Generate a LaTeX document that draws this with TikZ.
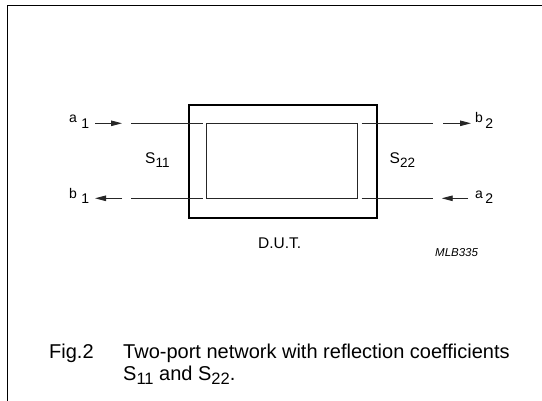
\documentclass[tikz,border=0pt]{standalone}
\usepackage{fontspec}
\setmainfont{Liberation Sans}
\usetikzlibrary{arrows.meta}
\begin{document}
\begin{tikzpicture}[x=1pt,y=-1pt,
  thin line/.style={line width=0.9pt, draw=black!85},
  thick box/.style={line width=2pt, draw=black},
  frame line/.style={line width=1.6pt, draw=black},
  sig arrow/.style={thin line, -{Triangle[length=11pt,width=5.5pt]}},
  port label/.style={anchor=base west, inner sep=0pt, font=\fontsize{14}{14}\selectfont},
  s label/.style={anchor=base west, inner sep=0pt, font=\fontsize{15.5}{15.5}\selectfont},
  captext/.style={anchor=base west, inner sep=0pt, font=\fontsize{20}{20}\selectfont}]
\useasboundingbox (0,0) rectangle (542,400);
\fill[white] (0,0) rectangle (542,400);
% frame
\coordinate (fb) at (7.3,402);
\coordinate (ftl) at (7.3,5.3);
\coordinate (fr) at (544,5.3);
\draw[frame line] (fb) -- (ftl) -- (fr);
% DUT boxes
\node[thick box, draw, minimum width=188.3pt, minimum height=112.7pt, inner sep=0pt, anchor=north west] (outer) at (187.7,104.3) {};
\node[thin line, draw, minimum width=151pt, minimum height=75pt, inner sep=0pt, anchor=north west] (inner) at (206.3,123.3) {};
% lines through
\coordinate (l1s) at (131,123.3); \coordinate (l1e) at (202.7,123.3);
\coordinate (l2s) at (131,198.3); \coordinate (l2e) at (202.7,198.3);
\coordinate (r1s) at (361.7,123.3); \coordinate (r1e) at (433.3,123.3);
\coordinate (r2s) at (361.7,198.3); \coordinate (r2e) at (433.3,198.3);
\draw[thin line] (l1s) -- (l1e);
\draw[thin line] (l2s) -- (l2e);
\draw[thin line] (r1s) -- (r1e);
\draw[thin line] (r2s) -- (r2e);
% arrows
\coordinate (a1t) at (95,123.3); \coordinate (a1h) at (122,123.3);
\coordinate (b1t) at (122,198.3); \coordinate (b1h) at (95,198.3);
\coordinate (b2t) at (443,123.3); \coordinate (b2h) at (471,123.3);
\coordinate (a2t) at (468,198.3); \coordinate (a2h) at (441.7,198.3);
\draw[sig arrow] (a1t) -- (a1h);
\draw[sig arrow] (b1t) -- (b1h);
\draw[sig arrow] (b2t) -- (b2h);
\draw[sig arrow] (a2t) -- (a2h);
% port labels
\node[port label] (a1) at (69,122.7) {a\hspace{4.5pt}\raisebox{-5.5pt}{1}};
\node[port label] (b1) at (69,198.7) {b\hspace{4.5pt}\raisebox{-5pt}{1}};
\node[port label] (b2) at (475,122.7) {b\hspace{2.5pt}\raisebox{-5.5pt}{2}};
\node[port label] (a2) at (475,198.7) {a\hspace{2.5pt}\raisebox{-5pt}{2}};
% S labels
\node[s label] (s11) at (145,163.3) {S\raisebox{-4pt}{\fontsize{13.5}{13.5}\selectfont 11}};
\node[s label] (s22) at (389.5,163.3) {S\raisebox{-4pt}{\fontsize{13.5}{13.5}\selectfont 22}};
% DUT
\node[anchor=base west, inner sep=0pt, font=\fontsize{15.5}{15.5}\selectfont] (dut) at (258,248.5) {D.U.T.};
\node[anchor=base west, inner sep=0pt, font=\fontsize{11.5}{11.5}\selectfont\itshape] (mlb) at (435,256.5) {MLB335};
% caption
\node[captext] (fig) at (49,358) {Fig.2};
\node[captext] (cap1) at (123,358) {Two-port network with reflection coefficients};
\node[captext] (cap2) at (123,380) {S\raisebox{-4.5pt}{\fontsize{16.5}{16.5}\selectfont 11} and S\raisebox{-4.5pt}{\fontsize{16.5}{16.5}\selectfont 22}.};
\end{tikzpicture}
\end{document}
